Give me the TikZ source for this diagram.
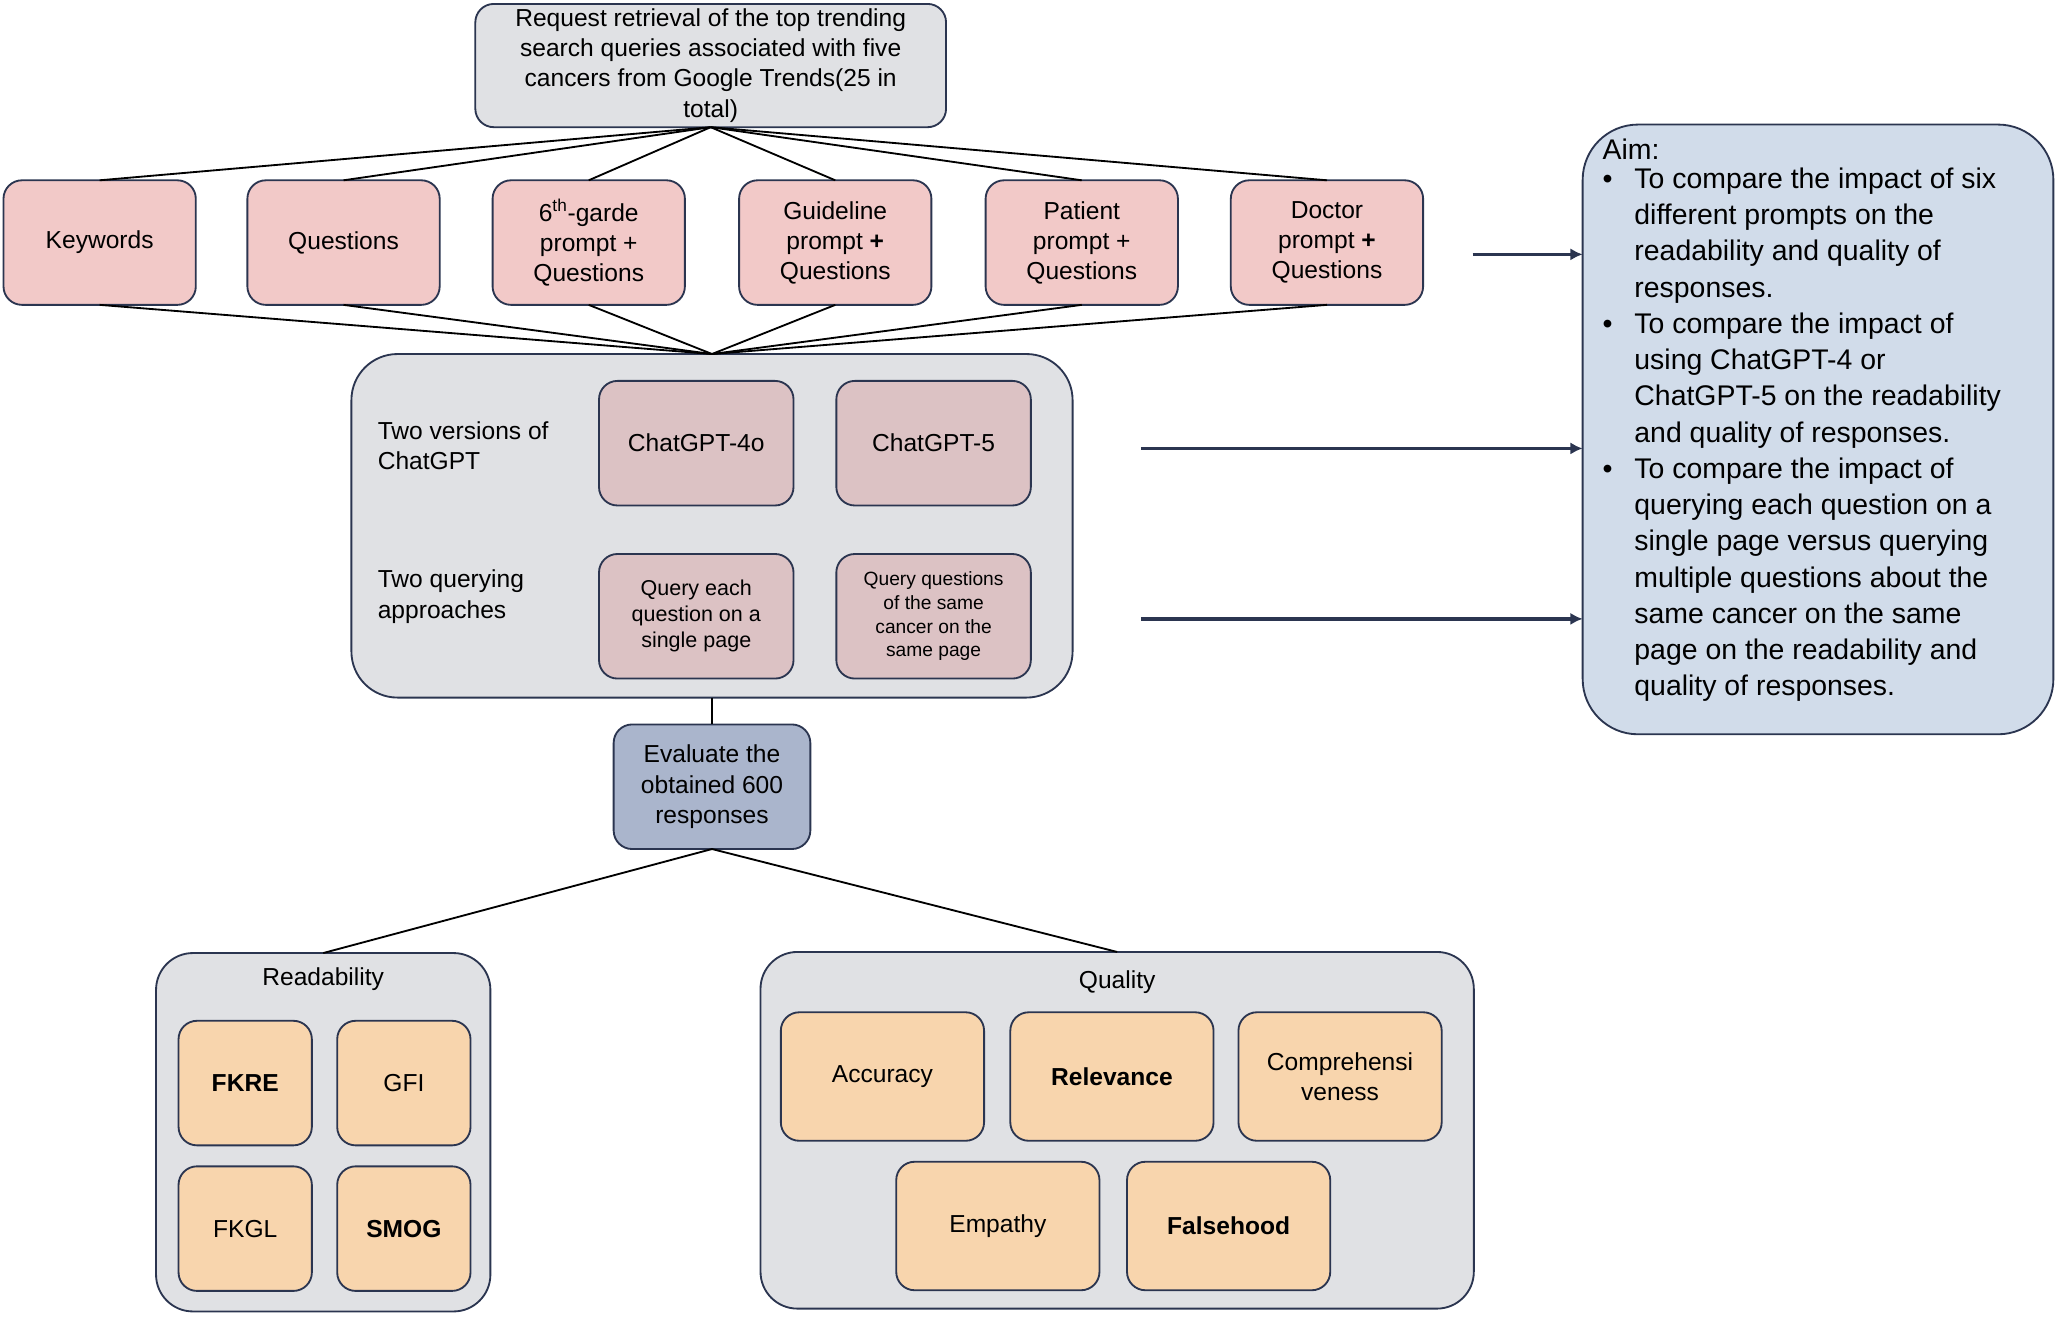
\documentclass[tikz,border=0pt]{standalone}
\usepackage{fontspec}
\setmainfont{Liberation Sans}
\usetikzlibrary{arrows.meta,positioning}
\definecolor{navy}{HTML}{2B3550}
\definecolor{pinkf}{HTML}{F2C9C8}
\definecolor{grayf}{HTML}{E0E1E4}
\definecolor{gptf}{HTML}{DCC2C4}
\definecolor{evalf}{HTML}{AAB5CC}
\definecolor{orf}{HTML}{F8D5AD}
\definecolor{aimf}{HTML}{D1DCEA}
\begin{document}
\begin{tikzpicture}
  [
    x=0.3mm, y=-0.3mm,
    font=\fontsize{16}{19.6}\selectfont,
    box/.style =
      {draw=navy, line width=1.2pt, rounded corners=12pt, align=center,
       inner sep=0pt, outer sep=0pt},
    prompt/.style = {box, fill=pinkf, minimum width=44mm, minimum height=28.5mm},
    gpt/.style = {box, fill=gptf, minimum width=44.5mm, minimum height=28.5mm},
    metric/.style = {box, fill=orf, minimum width=30.5mm, minimum height=28.5mm},
    qmetric/.style = {box, fill=orf, minimum width=46.5mm, minimum height=29.4mm},
    link/.style = {black, line width=1.2pt},
    aimarrow/.style = {navy, line width=2.4pt, -{Latex[length=8pt,width=8pt]}}
  ]
  \useasboundingbox (0,0) rectangle (1568,1005);

  \node [box, fill=grayf, minimum width=107.7mm, minimum height=28.2mm]
    at (542,50) (req) {Request retrieval of the top trending\\search queries associated with five\\cancers from Google Trends(25 in\\total)};

  \node [prompt] at (76,185)   (p1) {Keywords};
  \node [prompt] at (262,185)  (p2) {Questions};
  \node [prompt] at (449,185)  (p3) {6\textsuperscript{th}-garde\\prompt +\\Questions};
  \node [prompt] at (637,185)  (p4) {Guideline\\prompt \textbf{+}\\Questions};
  \node [prompt] at (825,185)  (p5) {Patient\\prompt +\\Questions};
  \node [prompt] at (1012,185) (p6) {Doctor\\prompt \textbf{+}\\Questions};

  \node [box, fill=grayf, rounded corners=30pt, minimum width=165mm, minimum height=78.6mm]
    at (543,401) (gpt) {};
  \node [gpt] at (531,338) (g4) {ChatGPT-4o};
  \node [gpt] at (712,338) (g5) {ChatGPT-5};
  \node [gpt, font=\fontsize{14}{17}\selectfont] at (531,470) (q1) {Query each\\question on a\\single page};
  \node [gpt, font=\fontsize{12.5}{15.5}\selectfont] at (712,470) (q2) {Query questions\\of the same\\cancer on the\\same page};
  \node [anchor=west, align=left] at (284,340) (lv) {Two versions of\\ChatGPT};
  \node [anchor=west, align=left] at (284,455) (la) {Two querying\\approaches};

  \foreach \p in {p1,p2,p3,p4,p5,p6}{
    \draw [link] (req.south) -- (\p.north);
    \draw [link] (\p.south) -- (gpt.north);
  }

  \node [box, fill=evalf, minimum width=45mm, minimum height=28.5mm]
    at (543,600) (eval) {Evaluate the\\obtained 600\\responses};
  \draw [link] (gpt.south) -- (eval.north);

  \node [box, fill=grayf, rounded corners=24pt, minimum width=76.5mm, minimum height=82mm]
    at (246.5,863.5) (read) {};
  \node [below=2mm of read.north] (readt) {Readability};
  \node [metric] at (187,826) (m1) {\textbf{FKRE}};
  \node [metric] at (308,826) (m2) {GFI};
  \node [metric] at (187,937) (m3) {FKGL};
  \node [metric] at (308,937) (m4) {\textbf{SMOG}};

  \node [box, fill=grayf, rounded corners=24pt, minimum width=163.2mm, minimum height=81.6mm]
    at (852,862) (qual) {};
  \node [below=3mm of qual.north] (qualt) {Quality};
  \node [qmetric] at (673,821)  (a1) {Accuracy};
  \node [qmetric] at (848,821)  (a2) {\textbf{Relevance}};
  \node [qmetric] at (1022,821) (a3) {Comprehensi\\veness};
  \node [qmetric] at (761,935)  (a4) {Empathy};
  \node [qmetric] at (937,935)  (a5) {\textbf{Falsehood}};

  \draw [link] (eval.south) -- (read.north);
  \draw [link] (eval.south) -- (qual.north);

  \node [box, fill=aimf, rounded corners=36pt, minimum width=107.7mm, minimum height=139.5mm]
    at (1386.5,327.5) (aim) {};
  \node [anchor=north west, align=left, inner sep=0pt,
         font=\fontsize{18.5}{23.6}\selectfont] at (1222,106) (aimt)
    {Aim:\\[1pt]
     \begin{tabular}{@{}l@{\hspace{5mm}}l@{}}
     \textbullet & To compare the impact of six\\
     & different prompts on the\\
     & readability and quality of\\
     & responses.\\
     \textbullet & To compare the impact of\\
     & using ChatGPT-4 or\\
     & ChatGPT-5 on the readability\\
     & and quality of responses.\\
     \textbullet & To compare the impact of\\
     & querying each question on a\\
     & single page versus querying\\
     & multiple questions about the\\
     & same cancer on the same\\
     & page on the readability and\\
     & quality of responses.
     \end{tabular}};

  \coordinate (c1) at (1123,194);
  \coordinate (c2) at (870,342);
  \coordinate (c3) at (870,472);
  \draw [aimarrow] (c1) -- (c1 -| aim.west);
  \draw [aimarrow] (c2) -- (c2 -| aim.west);
  \draw [aimarrow] (c3) -- (c3 -| aim.west);
\end{tikzpicture}
\end{document}
